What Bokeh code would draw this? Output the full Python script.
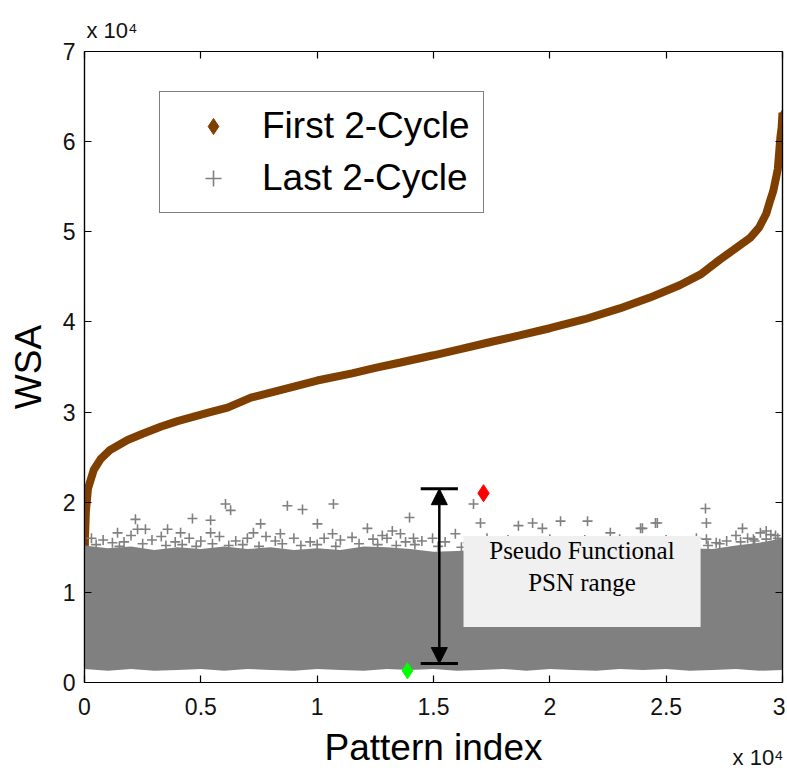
from bokeh.plotting import figure
from bokeh.models import (Range1d, LinearAxis, Legend, LegendItem, Arrow, NormalHead,
                          FixedTicker)
from bokeh.core.properties import value
from bokeh.embed import file_html
from bokeh.resources import INLINE

# ---------------- data ----------------
# First 2-Cycle: sorted WSA per pattern index
first_idx = [0, 20, 60, 150, 400, 700, 1100, 1850, 2500, 3300, 4000, 4700, 5400, 6150,
             7150, 8500, 10000, 11500, 12500, 13580, 15000, 16200, 17500, 18700, 20000,
             21500, 23000, 24300, 25600, 26500, 27300, 27900, 28600, 29000, 29300,
             29450, 29600, 29700, 29800, 29910, 29960, 30000]
first_wsa = [12500, 16000, 19000, 21500, 23600, 24800, 25800, 26900, 27600, 28400,
             29000, 29500, 30000, 30500, 31600, 32500, 33500, 34300, 34900, 35500,
             36300, 37000, 37800, 38500, 39300, 40300, 41500, 42700, 44100, 45300,
             46900, 48000, 49300, 50500, 52000, 53300, 54500, 55700, 57000, 60500,
             61500, 63200]

# Last 2-Cycle: dense cloud envelope (lower / upper edge of the solid gray band)
band_idx = [0, 1000, 2000, 3000, 4000, 5000, 6000, 7000, 8000, 9000, 10000,
            11000, 12000, 13000, 14000, 15000, 16000, 17000, 18000, 19000, 20000,
            21000, 22000, 23000, 24000, 25000, 26000, 27000, 28000, 29000, 30000]
band_low = [1500, 1300, 1500, 1300, 1400, 1500, 1300, 1500, 1400, 1300, 1500,
            1400, 1300, 1500, 1400, 1500, 1300, 1400, 1500, 1300, 1500,
            1400, 1300, 1500, 1400, 1500, 1300, 1400, 1500, 1300, 1400]
band_high = [15200, 14900, 15100, 14700, 15000, 14800, 15100, 14800, 15000, 14700, 14900,
             14700, 15100, 15000, 14800, 14500, 14600, 14700, 14500, 14700, 14500,
             14800, 14600, 14900, 14700, 14600, 14900, 14800, 15200, 15500, 16000]

# Last 2-Cycle: individual patterns above the dense band
last_idx = [2190, 4640, 5420, 6060, 6280, 8720, 9370, 10700,
            2280, 2620, 1420, 3570, 4130, 7570, 10010, 7260, 8420, 10660, 5420,
            13970, 12160, 13230, 13580, 12800, 14140, 16720, 17020, 18650, 19260,
            19680, 20460, 21620, 23900, 24540, 15940, 14960, 22600,
            26690, 26730, 24620, 23980, 28280, 29050, 29300, 28750, 26730, 27150,
            300, 800, 1200, 1700, 2000, 2900, 3300, 3900, 4500, 5000, 5800, 6500,
            7000, 7800, 8200, 9000, 9700, 10300, 11000, 11500, 12400, 13000, 13800,
            14500, 15500, 16500, 17300, 18200, 19000, 20000, 20800, 21500, 22200,
            23000, 24000, 25000, 25800, 26300, 27600, 28000, 28500, 29500, 29800,
            500, 1500, 2500, 3500, 4200, 4800, 5500, 6200, 6800, 7500, 8500, 9300,
            10000, 10800, 11800, 12600, 13400, 14200, 15200, 16200, 17000, 17800,
            18600, 19400, 20400, 21200, 22000, 22800, 23600, 24400, 25400, 26000,
            26800, 27300, 28200, 28800, 29300, 29700]
last_wsa = [18100, 18200, 18000, 19800, 19100, 19600, 19200, 19800,
            17000, 17000, 16600, 17000, 16600, 17600, 17600, 16600, 16500, 16500, 16600,
            18300, 17100, 16800, 16500, 16300, 16000, 19800, 17700, 17400, 17700,
            17100, 17900, 17900, 17100, 17700, 16500, 16000, 16600,
            19300, 17700, 17700, 17100, 17100, 16600, 16800, 15900, 15900, 15500,
            16000, 15800, 15500, 15600, 16300, 15800, 16200, 15600, 16000, 15700, 16200, 15700,
            16000, 16200, 15700, 16000, 15600, 16000, 15800, 16100, 15900, 16000, 15600,
            15700, 15600, 15500, 16000, 15800, 15600, 15900, 15500, 15800, 15600,
            15900, 15500, 15800, 15600, 16000, 15700, 16300, 16000, 16400, 16000,
            15300, 15100, 15400, 15200, 15300, 15100, 15400, 15200, 15300, 15100, 15400, 15200,
            15300, 15100, 15400, 15300, 15200, 15300, 15100, 15000, 15200, 15100,
            15000, 15200, 15000, 15100, 15000, 15200, 15100, 15000, 15200, 15300,
            15200, 15400, 15600, 15700, 15900, 16300]

# highlighted patterns
red_idx, red_wsa = [17150], [21000]
green_idx, green_wsa = [13880], [1300]

# pseudo functional PSN range annotation
psn_x = 15250
psn_low, psn_high = 2100, 21500
psn_bar_x0, psn_bar_x1 = 14450, 16050
note_left, note_right, note_bottom, note_top = 16290, 26480, 6150, 16260
note_x = 21380
note_lines = ["Pseudo Functional", "PSN range"]
note_y = [14600, 11100]

x_ticks = [0, 5000, 10000, 15000, 20000, 25000, 30000]
x_tick_labels = ["0", "0.5", "1", "1.5", "2", "2.5", "3"]
y_ticks = [0, 10000, 20000, 30000, 40000, 50000, 60000, 70000]
y_tick_labels = ["0", "1", "2", "3", "4", "5", "6", "7"]
exponent_text = "x 10\u2074"

BROWN = "#7F3F00"
GRAY = "#808080"
SANS = "Liberation Sans"
PAD = "\u00a0" * 9   # shifts the corner-anchored exponent labels inward

# ---------------- figure ----------------
p = figure(width=785, height=772, x_range=Range1d(0, 30000), y_range=Range1d(0, 70000),
           output_backend="svg", toolbar_location=None,
           min_border_left=84, min_border_right=3, min_border_top=51, min_border_bottom=84)
p.grid.visible = False
p.outline_line_color = "black"
p.outline_line_width = 1.2
p.background_fill_color = "white"
p.border_fill_color = "white"

def style_axis(ax, ticks, labels, show_labels=True):
    ax.ticker = FixedTicker(ticks=ticks)
    ax.major_tick_in = 7
    ax.major_tick_out = 0
    ax.minor_tick_in = 0
    ax.minor_tick_out = 0
    ax.axis_line_color = "black"
    ax.major_tick_line_color = "black"
    ax.major_tick_line_width = 1.2
    ax.axis_line_width = 1.2
    if show_labels:
        ax.major_label_overrides = {t: l for t, l in zip(ticks, labels)}
        ax.major_label_text_font = SANS
        ax.major_label_text_font_size = "23px"
        ax.major_label_text_color = "#111111"
    else:
        ax.major_label_overrides = {t: "" for t in ticks}
        ax.major_label_text_color = None
        ax.major_label_text_font_size = "1px"
        ax.major_label_standoff = 0

def exponent_axis(text, align, standoff):
    ax = LinearAxis(ticker=FixedTicker(ticks=[]))
    ax.axis_line_color = None
    ax.major_tick_line_color = None
    ax.minor_tick_line_color = None
    ax.major_label_text_color = None
    ax.axis_label = text
    ax.axis_label_align = align
    ax.axis_label_text_font = SANS
    ax.axis_label_text_font_size = "22px"
    ax.axis_label_text_font_style = "normal"
    ax.axis_label_text_color = "#111111"
    ax.axis_label_standoff = standoff
    return ax

style_axis(p.xaxis[0], x_ticks, x_tick_labels)
style_axis(p.yaxis[0], y_ticks, y_tick_labels)
p.xaxis[0].major_label_standoff = 15
p.yaxis[0].major_label_standoff = 9
p.xaxis[0].axis_label = "Pattern index"
p.yaxis[0].axis_label = "WSA"
for ax in (p.xaxis[0], p.yaxis[0]):
    ax.axis_label_text_font = SANS
    ax.axis_label_text_font_size = "37px"
    ax.axis_label_text_font_style = "normal"
    ax.axis_label_text_color = "black"
p.xaxis[0].axis_label_standoff = 9
p.yaxis[0].axis_label_standoff = 11

# top axis: ticks only
top_ax = LinearAxis()
style_axis(top_ax, x_ticks, x_tick_labels, show_labels=False)
p.add_layout(top_ax, "above")
# y-scale exponent above the top-left corner
p.add_layout(exponent_axis(PAD + exponent_text, "start", 9), "above")

right_ax = LinearAxis()
style_axis(right_ax, y_ticks, y_tick_labels, show_labels=False)
p.add_layout(right_ax, "right")

# x-scale exponent at the bottom-right corner
p.add_layout(exponent_axis(exponent_text + PAD[:8], "end", -26), "below")

# ---------------- glyphs ----------------
p.line(first_idx, first_wsa, line_color=BROWN, line_width=8)
first_r = p.scatter(first_idx, first_wsa, marker="diamond", size=6,
                    fill_color=BROWN, line_color=BROWN)

p.varea(x=band_idx, y1=band_low, y2=band_high, fill_color=GRAY)
last_r = p.scatter(last_idx, last_wsa, marker="cross", size=10,
                   line_color=GRAY, line_width=1.6)

p.scatter(red_idx, red_wsa, marker="diamond", size=17, fill_color="#FF0000", line_color="#FF0000")
p.scatter(green_idx, green_wsa, marker="diamond", size=16, fill_color="#00FF00", line_color="#00FF00")

# note box
p.quad(left=[note_left], right=[note_right], bottom=[note_bottom], top=[note_top],
       fill_color="#F0F0F0", line_color=None)
p.text(x=[note_x, note_x], y=note_y, text=note_lines, text_align="center",
       text_baseline="middle", text_font=value("Liberation Serif"),
       text_font_size="25px", text_color="black")

# range arrow with bars
p.segment(x0=[psn_bar_x0, psn_bar_x0], x1=[psn_bar_x1, psn_bar_x1],
          y0=[psn_low, psn_high], y1=[psn_low, psn_high], line_color="black", line_width=3)
p.add_layout(Arrow(start=NormalHead(size=16, fill_color="black", line_color="black"),
                   end=NormalHead(size=16, fill_color="black", line_color="black"),
                   x_start=psn_x, y_start=psn_low, x_end=psn_x, y_end=psn_high,
                   line_color="black", line_width=2.5))

# legend
legend = Legend(items=[LegendItem(label="First 2-Cycle", renderers=[first_r]),
                       LegendItem(label="Last 2-Cycle", renderers=[last_r])],
                location=(75, 469))
legend.label_text_font = SANS
legend.label_text_font_size = "37px"
legend.label_text_color = "black"
legend.label_height = 40
legend.glyph_height = 40
legend.glyph_width = 80
legend.label_standoff = 9
legend.spacing = 10
legend.padding = 13
legend.margin = 0
legend.border_line_color = "black"
legend.border_line_width = 1.2
legend.background_fill_color = "white"
legend.background_fill_alpha = 1
p.add_layout(legend, "center")

open("out.html", "w").write(file_html(p, INLINE))
